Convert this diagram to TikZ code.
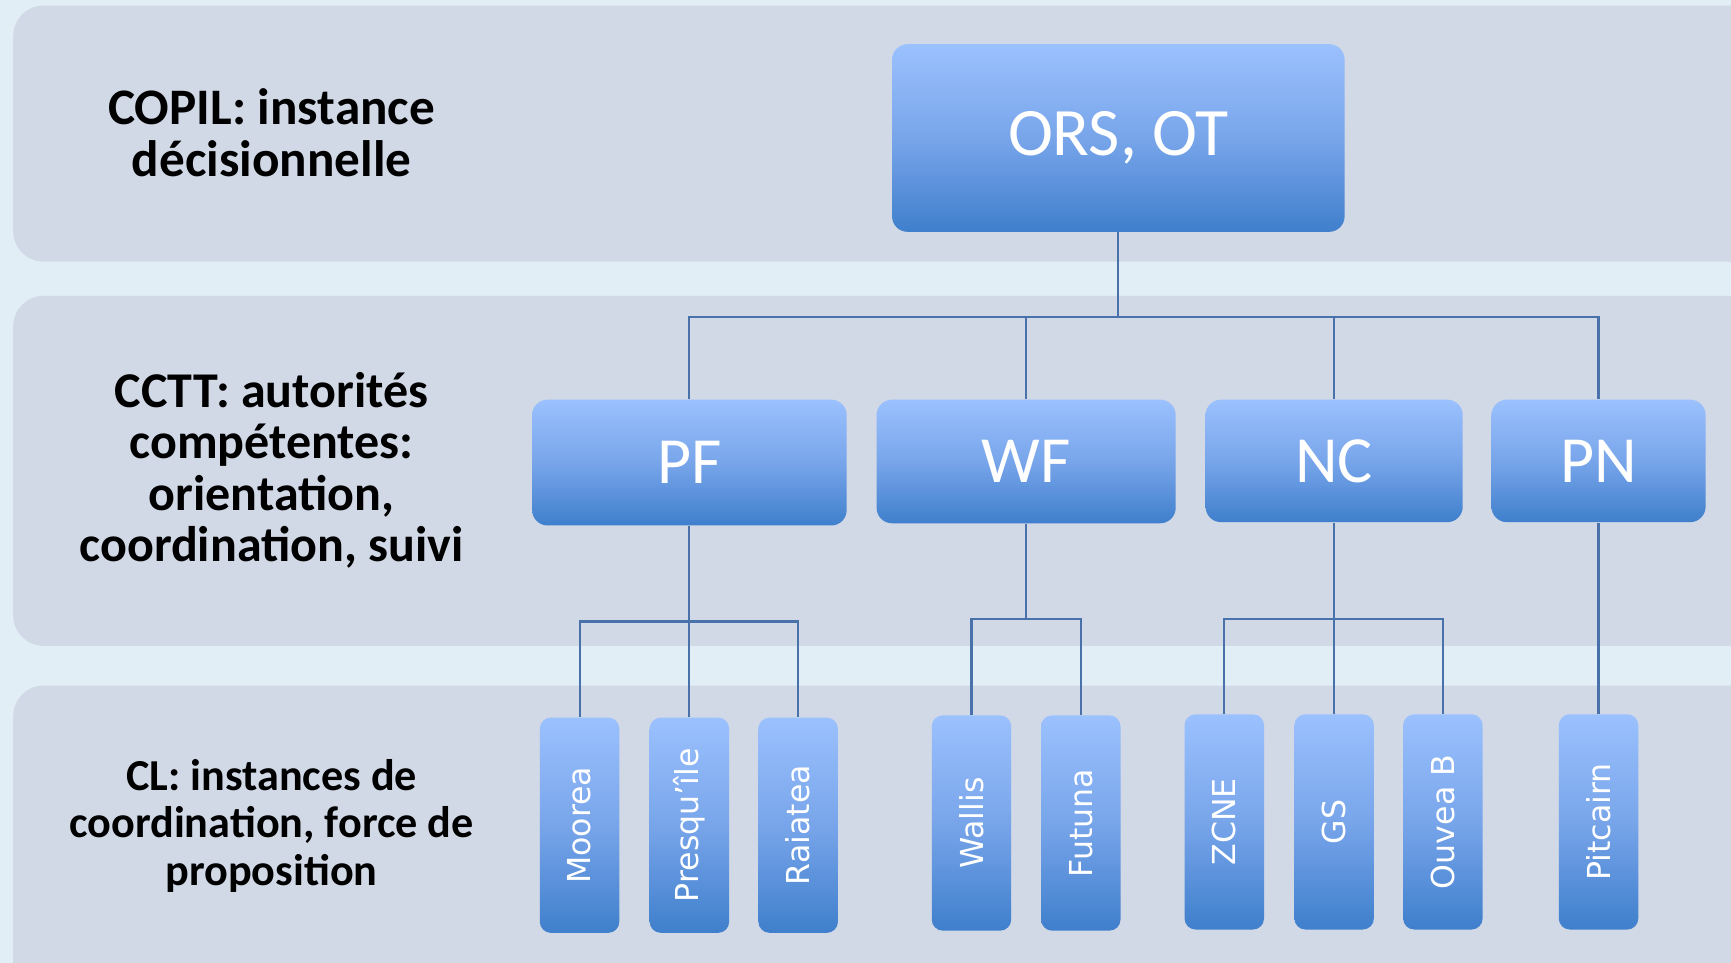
\documentclass[tikz,border=0pt]{standalone}
\usepackage{fontspec}
\setmainfont{Carlito}
\newfontfamily\vfont{DejaVu Sans}
\definecolor{bgc}{HTML}{E2EEF5}
\definecolor{bandc}{HTML}{D1D8E6}
\definecolor{linec}{HTML}{4A72AA}
\definecolor{topc}{HTML}{9BC1FE}
\definecolor{midc}{HTML}{78A5EA}
\definecolor{botc}{HTML}{3F7FCC}
\newcommand{\vtext}[1]{{\vfont\fontsize{16.3}{19}\selectfont #1}}
\tikzset{
  band/.style={fill=bandc, draw=none, rounded corners=0.55cm},
  bluebox/.style={rounded corners=0.28cm, top color=topc, bottom color=botc, middle color=midc, draw=none, text=white, inner sep=0pt},
  bigbox/.style={bluebox, font=\fontsize{34}{40}\selectfont},
  smallbox/.style={bluebox, rounded corners=0.2cm, minimum width=1.44cm, minimum height=3.9cm},
  vlabel/.style={rotate=90, text=white},
  conn/.style={draw=linec, line width=1.1pt},
  lefttext/.style={align=center, text=black}
}
\begin{document}
\begin{tikzpicture}[x=0.02cm, y=-0.02cm]
\useasboundingbox (0,0) rectangle (1568,872);
\begin{scope}
\clip (0,0) rectangle (1568,872);
\fill[bgc] (0,0) rectangle (1568,872);
\fill[band] (12,5) rectangle (1620,237);
\fill[band] (12,268) rectangle (1620,585);
\fill[band] (12,621) rectangle (1620,910);
\end{scope}
% left labels
\node[lefttext, font=\bfseries\fontsize{26.4}{26.6}\selectfont] (t1) at (246,120) {COPIL: instance\\décisionnelle};
\node[lefttext, font=\bfseries\fontsize{25.8}{26.6}\selectfont] (t2) at (246,426) {CCTT: autorités\\compétentes:\\orientation,\\coordination, suivi};
\node[lefttext, font=\bfseries\fontsize{22.8}{24.4}\selectfont] (t3) at (246,748) {CL: instances de\\coordination, force de\\proposition};
% top
\node[bigbox, minimum width=8.2cm, minimum height=3.4cm, font=\fontsize{35}{40}\selectfont] (ors) at (1013,125) {ORS, OT};
% level 2
\node[bigbox, minimum width=5.7cm, minimum height=2.28cm] (pf) at (624.5,419) {PF};
\node[bigbox, minimum width=5.42cm, minimum height=2.24cm] (wf) at (929.5,418) {WF};
\node[bigbox, minimum width=4.66cm, minimum height=2.22cm] (nc) at (1208.5,417.5) {NC};
\node[bigbox, minimum width=3.88cm, minimum height=2.22cm] (pn) at (1448,417.5) {PN};
% level 3
\node[smallbox] (moorea) at (525,747.5) {};
\node[vlabel] (lmoorea) at (moorea.center) {\vtext{Moorea}};
\node[smallbox] (presq) at (624.5,747.5) {};
\node[vlabel] (lpresq) at (presq.center) {\vtext{Presqu’île}};
\node[smallbox] (raiatea) at (723,747.5) {};
\node[vlabel] (lraiatea) at (raiatea.center) {\vtext{Raiatea}};
\node[smallbox] (wallis) at (880,745.5) {};
\node[vlabel] (lwallis) at (wallis.center) {\vtext{Wallis}};
\node[smallbox] (futuna) at (979,745.5) {};
\node[vlabel] (lfutuna) at (futuna.center) {\vtext{Futuna}};
\node[smallbox] (zcne) at (1109,744.5) {};
\node[vlabel] (lzcne) at (zcne.center) {\vtext{ZCNE}};
\node[smallbox] (gs) at (1208.5,744.5) {};
\node[vlabel] (lgs) at (gs.center) {\vtext{GS}};
\node[smallbox] (ouvea) at (1307,744.5) {};
\node[vlabel] (louvea) at (ouvea.center) {\vtext{Ouvea B}};
\node[smallbox] (pitcairn) at (1448,744.5) {};
\node[vlabel] (lpitcairn) at (pitcairn.center) {\vtext{Pitcairn}};
% connectors
\coordinate (bus1) at (1013,287);
\coordinate (pfbus) at (624.5,563);
\coordinate (wfbus) at (929.5,561);
\coordinate (ncbus) at (1208.5,561);
\draw[conn] (ors.south) -- (bus1);
\draw[conn] (pf.north) |- (bus1) -| (pn.north);
\draw[conn] (wf.north) -- (wf.north |- bus1);
\draw[conn] (nc.north) -- (nc.north |- bus1);
\draw[conn] (pf.south) -- (pfbus);
\draw[conn] (moorea.north) |- (pfbus) -| (raiatea.north);
\draw[conn] (presq.north) -- (presq.north |- pfbus);
\draw[conn] (wf.south) -- (wfbus);
\draw[conn] (wallis.north) |- (wfbus) -| (futuna.north);
\draw[conn] (nc.south) -- (ncbus);
\draw[conn] (zcne.north) |- (ncbus) -| (ouvea.north);
\draw[conn] (gs.north) -- (gs.north |- ncbus);
\draw[conn] (pn.south) -- (pitcairn.north);
\end{tikzpicture}
\end{document}
